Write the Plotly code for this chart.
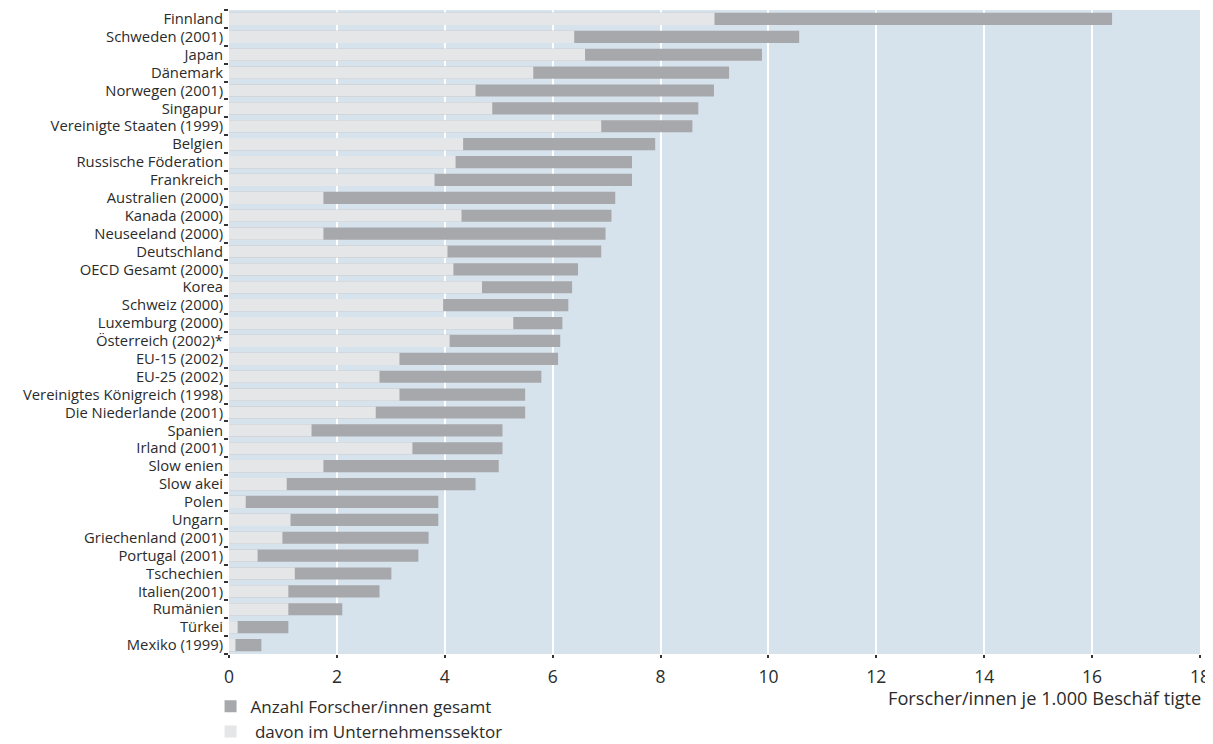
import plotly.graph_objects as go

countries = [
    "Finnland", "Schweden (2001)", "Japan", "Dänemark", "Norwegen (2001)", "Singapur",
    "Vereinigte Staaten (1999)", "Belgien", "Russische Föderation", "Frankreich",
    "Australien (2000)", "Kanada (2000)", "Neuseeland (2000)", "Deutschland",
    "OECD Gesamt (2000)", "Korea", "Schweiz (2000)", "Luxemburg (2000)",
    "Österreich (2002)*", "EU-15 (2002)", "EU-25 (2002)", "Vereinigtes Königreich (1998)",
    "Die Niederlande (2001)", "Spanien", "Irland (2001)", "Slow enien", "Slow akei",
    "Polen", "Ungarn", "Griechenland (2001)", "Portugal (2001)", "Tschechien",
    "Italien(2001)", "Rumänien", "Türkei", "Mexiko (1999)",
]

total = [
    16.37, 10.57, 9.88, 9.27, 8.99, 8.70, 8.59, 7.90, 7.47, 7.47,
    7.16, 7.09, 6.98, 6.90, 6.47, 6.36, 6.29, 6.18, 6.14, 6.10,
    5.79, 5.49, 5.49, 5.07, 5.07, 5.00, 4.57, 3.88, 3.88, 3.70,
    3.51, 3.01, 2.79, 2.10, 1.10, 0.60,
]

business = [
    9.00, 6.40, 6.60, 5.64, 4.57, 4.88, 6.90, 4.34, 4.20, 3.81,
    1.75, 4.31, 1.75, 4.05, 4.16, 4.69, 3.97, 5.27, 4.09, 3.16,
    2.79, 3.16, 2.72, 1.53, 3.40, 1.75, 1.07, 0.31, 1.14, 0.99,
    0.53, 1.22, 1.10, 1.10, 0.16, 0.12,
]

x_ticks = [0, 2, 4, 6, 8, 10, 12, 14, 16, 18]

FONT = "Open Sans"
TEXT = "#2b2b2b"

fig = go.Figure()
fig.add_trace(go.Bar(
    y=countries, x=total, orientation="h",
    name="Anzahl Forscher/innen gesamt",
    marker=dict(color="#a7a8ab", line=dict(width=0)),
))
fig.add_trace(go.Bar(
    y=countries, x=business, orientation="h",
    name=" davon im Unternehmenssektor",
    marker=dict(color="#e5e6e8", line=dict(width=0)),
))

# the page body has an 8px margin, so the figure is 8px smaller and margins offset
fig.update_layout(
    width=1205, height=736,
    barmode="overlay", bargap=0.32,
    plot_bgcolor="#d6e2ec", paper_bgcolor="white",
    margin=dict(l=221, r=13, t=2, b=90, autoexpand=False),
    font=dict(family=FONT, size=15, color=TEXT),
    showlegend=True,
    legend=dict(
        orientation="v", x=-0.019, xanchor="left", y=-0.054, yanchor="top",
        font=dict(family=FONT, size=17, color=TEXT),
        tracegroupgap=0, itemwidth=30, bgcolor="rgba(0,0,0,0)",
    ),
    xaxis=dict(
        range=[0, 18], tickmode="array", tickvals=x_ticks, ticktext=[str(v) for v in x_ticks],
        showgrid=True, gridcolor="white", gridwidth=1.5,
        zeroline=False, showline=False,
        ticks="outside", ticklen=3, tickwidth=1.5, tickcolor="#333",
        ticklabelstandoff=4,
        tickfont=dict(family=FONT, size=17.5, color=TEXT),
    ),
    yaxis=dict(
        categoryorder="array", categoryarray=countries, autorange="reversed",
        tickmode="array", tickvals=countries, ticktext=countries,
        showgrid=False, zeroline=False, showline=False,
        ticks="outside", tickson="boundaries", ticklen=4, tickwidth=1.5, tickcolor="#333",
        ticklabelstandoff=5,
        tickfont=dict(family=FONT, size=14.8, color=TEXT),
    ),
    annotations=[dict(
        text="Forscher/innen je 1.000 Beschäf tigte",
        xref="paper", yref="paper", x=1.003, y=-0.069,
        xanchor="right", yanchor="middle", showarrow=False,
        font=dict(family=FONT, size=18.2, color=TEXT),
    )],
)

fig.write_html("out.html")
